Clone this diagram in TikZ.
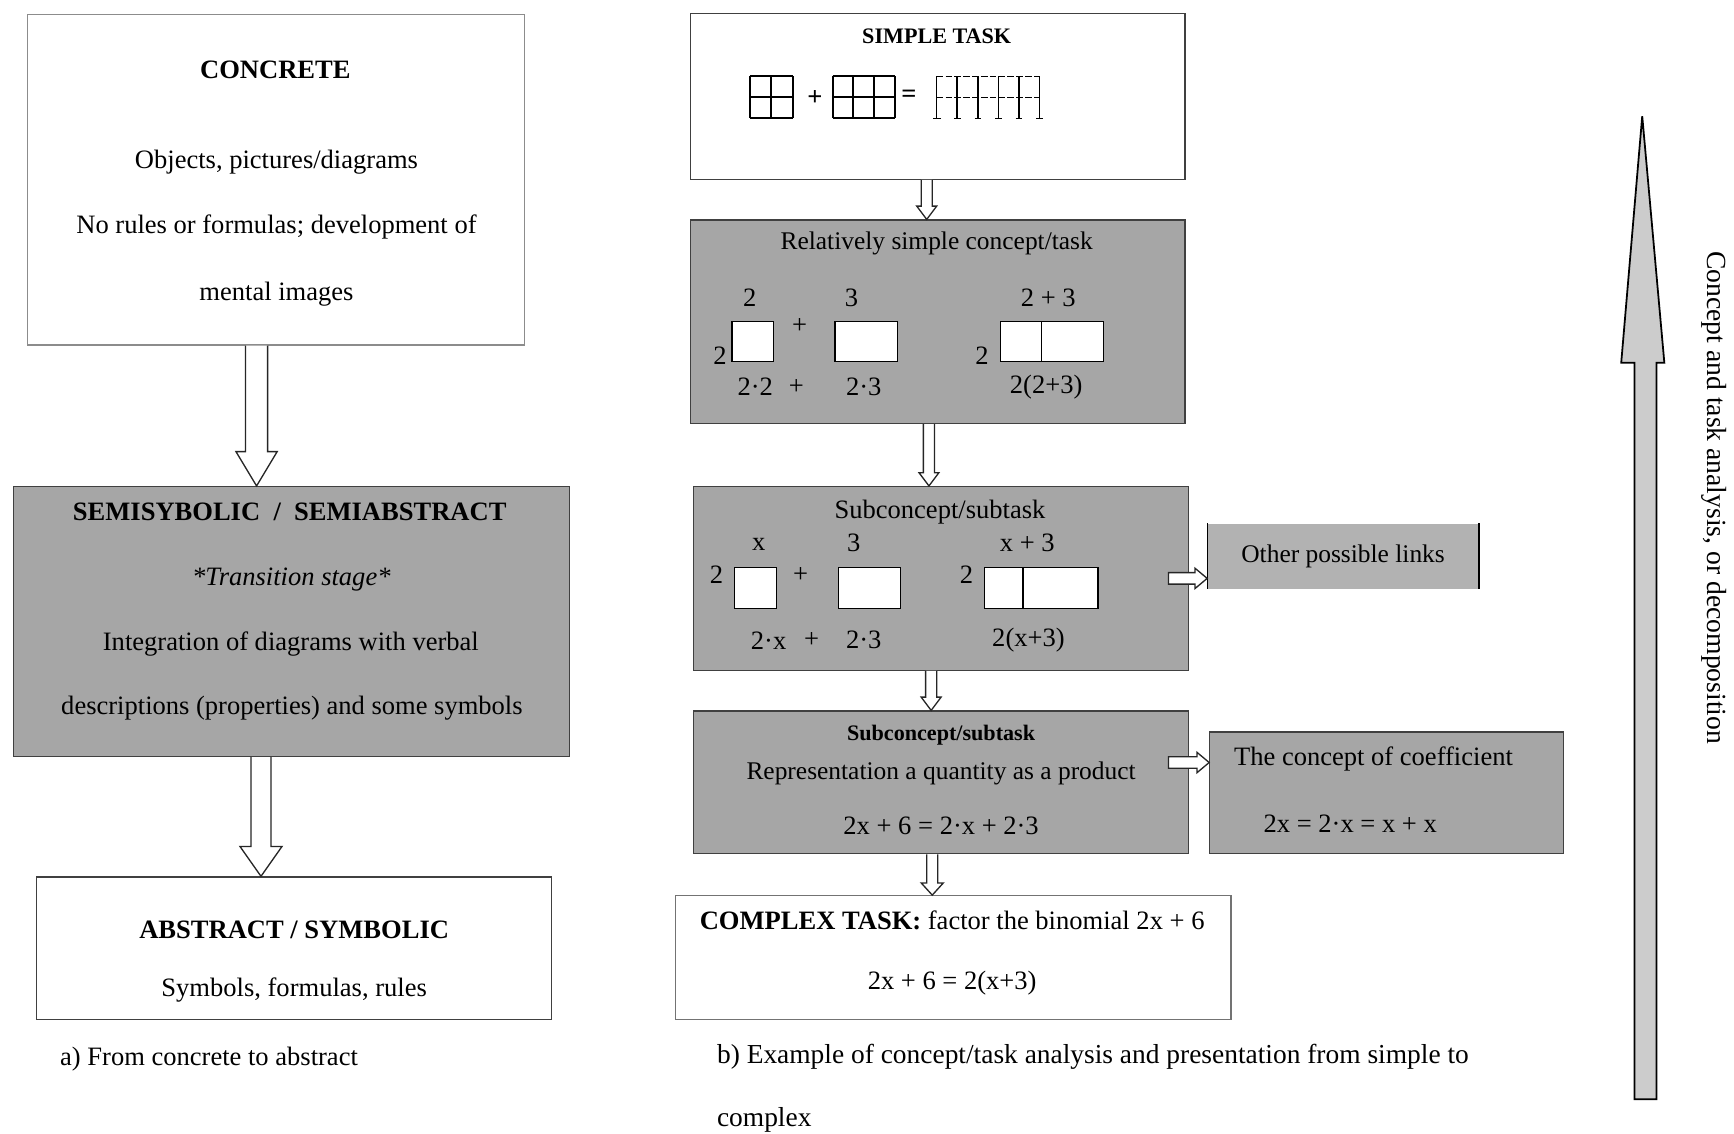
\documentclass[tikz,border=0pt]{standalone}
\usepackage{fontspec}
\setmainfont{Liberation Serif}
\usepackage{tikz}
\usetikzlibrary{calc,positioning}

\definecolor{boxgrey}{gray}{0.65}
\definecolor{linkgrey}{gray}{0.70}
\definecolor{arrowgrey}{gray}{0.80}

% hollow block arrows: from, to, shaft half, head half, head length
\newcommand{\downblock}[5]{%
  \draw[blockarrow] let \p1=#1, \p2=#2 in
    (\x1-#3,\y1) -- (\x1-#3,\y2+#5) -- (\x1-#4,\y2+#5) -- (\x1,\y2)
    -- (\x1+#4,\y2+#5) -- (\x1+#3,\y2+#5) -- (\x1+#3,\y1);
}
\newcommand{\rightblock}[5]{%
  \draw[blockarrow] let \p1=#1, \p2=#2 in
    (\x1,\y1+#3) -- (\x2-#5,\y1+#3) -- (\x2-#5,\y1+#4) -- (\x2,\y1)
    -- (\x2-#5,\y1-#4) -- (\x2-#5,\y1-#3) -- (\x1,\y1-#3) -- cycle;
}

\begin{document}
\begin{tikzpicture}[x=0.5pt, y=-0.5pt,
    box/.style={draw=black!75, line width=0.6pt, inner sep=0pt},
    greybox/.style={box, fill=boxgrey},
    txt/.style={font=\fontsize{12}{14}\selectfont, inner sep=0pt},
    title/.style={font=\fontsize{12}{14}\selectfont\bfseries, inner sep=0pt},
    small/.style={font=\fontsize{10}{12}\selectfont\bfseries, inner sep=0pt},
    blockarrow/.style={draw=black!85, line width=0.6pt, fill=white},
    cell/.style={draw=black, line width=0.6pt, fill=white}]
    \useasboundingbox (0,0) rectangle (1568,1025);

    % a) Left column
    \node[box, draw=black!45, minimum width=224.5pt, minimum height=149.5pt] (concrete) at (249.5,162.5) {};
    \node[title] (concretetitle) at (249,63) {CONCRETE};
    \node[txt] (concrete1) at (250,147) {Objects, pictures/diagrams};
    \node[txt] (concrete2) at (250,205) {No rules or formulas; development of};
    \node[txt] (concrete3) at (250,266) {mental images};

    \node[greybox, minimum width=251.5pt, minimum height=122pt] (semi) at (263.5,562) {};
    \node[title] (semititle) at (262,463) {SEMISYBOLIC \ / \ SEMIABSTRACT};
    \node[txt, font=\fontsize{12}{14}\selectfont\itshape] (semi1) at (263.5,524) {*Transition stage*};
    \node[txt] (semi2) at (263,582) {Integration of diagrams with verbal};
    \node[txt] (semi3) at (264,640) {descriptions (properties) and some symbols};

    \node[box, minimum width=233pt, minimum height=64.5pt] (abstract) at (266,857.5) {};
    \node[title] (abstracttitle) at (266,841) {ABSTRACT / SYMBOLIC};
    \node[txt] (abstract1) at (266,895) {Symbols, formulas, rules};
    \node[txt, anchor=west] (capa) at (54,958) {a) From concrete to abstract};

    \downblock{([xshift=-8.75pt]concrete.south)}{(semi.north)}{5pt}{9.3pt}{15.5pt}
    \downblock{([xshift=-13.75pt]semi.south)}{(abstract.north)}{4.5pt}{9.5pt}{13.5pt}

    % b) Middle column
    \node[box, minimum width=223.5pt, minimum height=75pt] (simple) at (848,87) {};
    \node[small] (simpletitle) at (847,33) {SIMPLE TASK};
    \foreach \i in {0,1,2} {
        \draw[line width=0.8pt] (678+19.5*\i,69) -- (678+19.5*\i,107);
        \draw[line width=0.8pt] (678,69+19*\i) -- (717,69+19*\i);
        \draw[line width=0.8pt] (753,69+19*\i) -- (809,69+19*\i);
    }
    \foreach \i in {0,...,3}
        \draw[line width=0.8pt] (753+18.67*\i,69) -- (753+18.67*\i,107);
    \node[title] (plus0) at (737,89) {+};
    \node[title] (equals0) at (822,87) {=};
    \foreach \i in {0,...,5} {
        \draw[line width=0.7pt] (847+18.6*\i,69) -- (847+18.6*\i,107);
        \draw[line width=0.7pt] (844+18.6*\i,107) -- (850+18.6*\i,107);
    }
    \draw[line width=0.7pt] (851,107) -- (847,107);
    \draw[line width=0.7pt, dash pattern=on 3pt off 1pt] (847,69) -- (940,69);
    \draw[line width=0.7pt, dash pattern=on 3pt off 1pt] (847,88) -- (940,88);

    \node[greybox, minimum width=223.5pt, minimum height=92pt] (rel) at (848,291) {};
    \node[txt, font=\fontsize{11.5}{14}\selectfont] (reltitle) at (847,220) {Relatively simple concept/task};
    \node[txt] (rela) at (678,269) {2};
    \node[txt] (relb) at (770,269) {3};
    \node[txt] (relc) at (948,269) {2 + 3};
    \draw[cell] (662,291) rectangle (699.5,327);
    \draw[cell] (755,291) rectangle (811.5,327);
    \draw[cell] (905,291) rectangle (998,327);
    \draw[line width=0.6pt] (942,291) -- (942,327);
    \node[txt] (relside1) at (651,322) {2};
    \node[txt] (relplus1) at (723,295) {+};
    \node[txt] (relside2) at (888,322) {2};
    \node[txt] (reld) at (683,350) {2·2};
    \node[txt] (relplus2) at (720,350) {+};
    \node[txt] (rele) at (781,350) {2·3};
    \node[txt] (relf) at (946,350) {2(2+3)};

    \node[greybox, minimum width=224pt, minimum height=83pt] (sub) at (851,523) {};
    \node[txt] (subtitle) at (850,463) {Subconcept/subtask};
    \node[txt] (suba) at (686,492) {x};
    \node[txt] (subb) at (772,491) {3};
    \node[txt] (subc) at (929,491) {x + 3};
    \draw[cell] (664,513) rectangle (702,550);
    \draw[cell] (758,513) rectangle (814,550);
    \draw[cell] (890,513) rectangle (993,550);
    \draw[line width=0.6pt] (925,513) -- (925,550);
    \node[txt] (subside1) at (648,520) {2};
    \node[txt] (subplus1) at (724,520) {+};
    \node[txt] (subside2) at (874,520) {2};
    \node[txt] (subd) at (695,579) {2·x};
    \node[txt] (subplus2) at (734,579) {+};
    \node[txt] (sube) at (781,579) {2·3};
    \node[txt] (subf) at (930,579) {2(x+3)};

    \node[fill=linkgrey, minimum width=122.5pt, minimum height=29.5pt, inner sep=0pt,
        font=\fontsize{11.5}{14}\selectfont] (links) at (1214.5,503) {Other possible links};
    \draw[line width=0.6pt] (links.north west) -- (links.south west);
    \draw[line width=0.6pt] (links.north east) -- (links.south east);

    \node[greybox, minimum width=224pt, minimum height=64.5pt] (repr) at (851,707.5) {};
    \node[small] (reprtitle) at (851,665) {Subconcept/subtask};
    \node[txt, font=\fontsize{11.5}{14}\selectfont] (repr1) at (851,699) {Representation a quantity as a product};
    \node[txt] (repr2) at (851,747) {2x + 6 = 2·x + 2·3};

    \node[greybox, minimum width=160pt, minimum height=55pt] (coeff) at (1254,717) {};
    \node[txt] (coeff1) at (1242,686) {The concept of coefficient};
    \node[txt] (coeff2) at (1221,745) {2x = 2·x = x + x};

    \node[box, draw=black!55, minimum width=251pt, minimum height=56pt] (complex) at (862,866) {};
    \node[txt] (complex1) at (861,832) {\textbf{COMPLEX TASK:} factor the binomial 2x + 6};
    \node[txt] (complex2) at (861,889) {2x + 6 = 2(x+3)};
    \node[txt, anchor=west, font=\fontsize{12.4}{14}\selectfont] (capb1) at (648,956) {b) Example of concept/task analysis and presentation from simple to};
    \node[txt, anchor=west, font=\fontsize{12.4}{14}\selectfont] (capb2) at (648,1013) {complex};

    \downblock{([xshift=-5pt]simple.south)}{(rel.north)}{2.5pt}{4.5pt}{6pt}
    \downblock{([xshift=-4pt]rel.south)}{(sub.north)}{2.5pt}{4.5pt}{6pt}
    \downblock{([xshift=-4.5pt]sub.south)}{(repr.north)}{2.5pt}{4.5pt}{6pt}
    \downblock{([xshift=-4pt]repr.south)}{(complex.north)}{2.5pt}{5pt}{5.5pt}
    \rightblock{([xshift=-9.5pt]sub.east)}{(links.west)}{2.6pt}{4.6pt}{5.5pt}
    \rightblock{([xshift=-9.5pt, yshift=9pt]repr.east)}{(coeff.west)}{2.6pt}{4.6pt}{5.5pt}

    % Right: decomposition arrow
    \draw[line width=0.8pt, fill=arrowgrey] (1478,994) -- (1478,328) -- (1466,328) -- (1485,105)
        -- (1505,328) -- (1498,328) -- (1498,994) -- cycle;
    \node[txt, font=\fontsize{12.5}{15}\selectfont, rotate=-90] (analysis) at (1550,450) {Concept and task analysis, or decomposition};
\end{tikzpicture}
\end{document}
